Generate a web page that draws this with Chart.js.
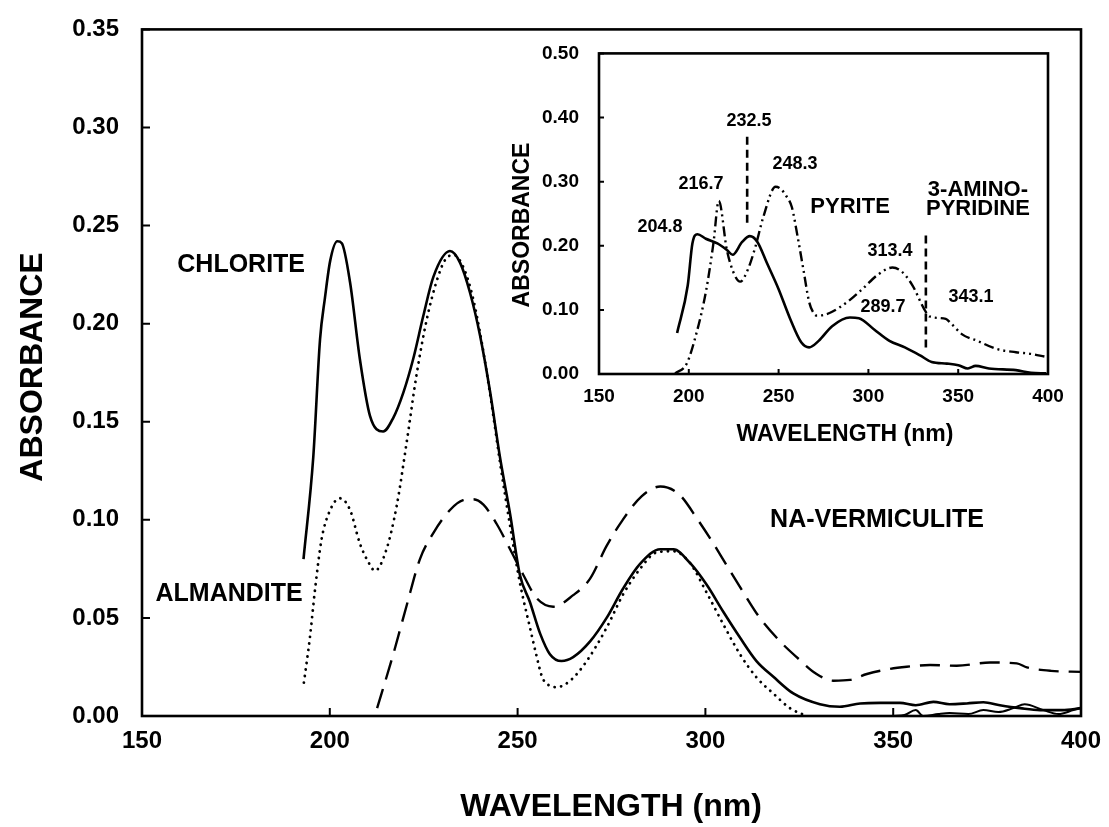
<!DOCTYPE html>
<html>
<head>
<meta charset="utf-8">
<script src="https://cdn.jsdelivr.net/npm/chart.js@4.4.1/dist/chart.umd.min.js"></script>
<style>
  html, body { margin: 0; padding: 0; background: #fff; }
  #wrap { position: relative; width: 1109px; height: 827px; }
  #main { position: absolute; left: 0; top: 0; }
  #inset { position: absolute; left: 500px; top: 30px; }
</style>
</head>
<body>
<div id="wrap">
  <canvas id="main" width="1109" height="827"></canvas>
  <canvas id="inset" width="575" height="425"></canvas>
</div>
<script>
// ---- main spectra ----
const chloriteNm = [193, 195.6, 197.4, 198.7, 200.1, 202, 203.2, 205.4, 208, 210.7, 214.2, 216.9, 219.6, 222.2, 224.9, 227.6, 232, 234.7, 237.3, 240, 242.7, 245.3, 248, 250.6, 253.3, 256, 258.6, 261.7, 264.8, 269.3, 273.7, 278.1, 282.6, 288, 291.5, 295.9, 300.3, 304.8, 309.2, 313.6, 318.1, 323.4, 330.5, 335.8, 341.2, 346.5, 351.8, 356, 360.7, 365, 369.6, 374, 378.4, 383.8, 389.1, 395, 400];
const chloriteAbs = [0.080, 0.132, 0.192, 0.213, 0.232, 0.242, 0.241, 0.221, 0.182, 0.153, 0.145, 0.152, 0.165, 0.182, 0.204, 0.224, 0.237, 0.231, 0.216, 0.194, 0.165, 0.132, 0.103, 0.072, 0.058, 0.042, 0.0315, 0.028, 0.030, 0.038, 0.050, 0.065, 0.0775, 0.085, 0.085, 0.078, 0.067, 0.053, 0.040, 0.028, 0.020, 0.0115, 0.006, 0.0047, 0.0064, 0.0067, 0.0067, 0.0055, 0.0072, 0.006, 0.0064, 0.007, 0.0055, 0.004, 0.003, 0.003, 0.004];

const almanditeNm = [193.1, 194.7, 196.1, 197.8, 200.1, 202.7, 205.4, 208, 210.7, 212, 215.1, 217.8, 220.5, 223.1, 225.8, 228.5, 230.7, 233, 235.5, 238, 240.5, 243, 245.5, 248, 250.6, 253.3, 255, 256.5, 257.8, 260.4, 264, 268.4, 273.7, 278.1, 282.6, 287, 291.5, 295.9, 300.3, 304.8, 309.2, 313.6, 318.1, 322.5, 327];
const almanditeAbs = [0.017, 0.040, 0.065, 0.090, 0.105, 0.111, 0.105, 0.088, 0.077, 0.074, 0.085, 0.107, 0.140, 0.174, 0.202, 0.222, 0.2325, 0.235, 0.229, 0.214, 0.190, 0.160, 0.127, 0.097, 0.068, 0.045, 0.031, 0.020, 0.0164, 0.0147, 0.018, 0.028, 0.045, 0.062, 0.075, 0.0834, 0.084, 0.078, 0.063, 0.0466, 0.0315, 0.0197, 0.0114, 0.004, 0.0];

// baseline trace near zero at the long-wavelength end
const baselineNm = [350, 353, 356, 358, 362, 365, 370, 374, 378, 382, 385, 390, 394, 398, 400];
const baselineAbs = [0.0, 0.0005, 0.003, 0.0, 0.001, 0.0015, 0.001, 0.003, 0.002, 0.004, 0.006, 0.003, 0.001, 0.003, 0.004];

const vermiculiteNm = [212.6, 216.9, 220.5, 224, 227.6, 232, 235.5, 238.2, 240.9, 244.4, 248, 251.5, 255.1, 259.5, 264.8, 269.3, 273.7, 278, 283, 288, 293, 298, 302.1, 305.7, 310.1, 314.5, 319.9, 324.3, 329.6, 334.1, 338.5, 343, 349.2, 353.6, 359.8, 366.9, 375.8, 382.9, 385.6, 392, 400];
const vermiculiteAbs = [0.004, 0.0315, 0.0566, 0.080, 0.0934, 0.105, 0.110, 0.1105, 0.1077, 0.098, 0.085, 0.072, 0.060, 0.0557, 0.0616, 0.070, 0.0867, 0.100, 0.112, 0.117, 0.113, 0.100, 0.088, 0.0767, 0.063, 0.050, 0.038, 0.030, 0.0214, 0.018, 0.0184, 0.0214, 0.024, 0.0251, 0.026, 0.0256, 0.0273, 0.0268, 0.0248, 0.023, 0.0225];

const mainAbsTicks = [0, 0.05, 0.10, 0.15, 0.20, 0.25, 0.30, 0.35];
const wavelengthTicks = [150, 200, 250, 300, 350, 400];

// ---- inset spectra ----
const insetChloriteNm = [193.5, 199.4, 202, 204.8, 209.5, 215.9, 221.2, 224.4, 229.7, 234, 238.2, 243.5, 249.9, 256.3, 262.7, 267, 272.3, 279.8, 289.7, 294.7, 303.2, 311.7, 320.3, 328.8, 335.2, 343.7, 350.1, 355.4, 359.7, 367.1, 382.1, 390.5, 399];
const insetChloriteAbs = [0.064, 0.138, 0.2036, 0.218, 0.211, 0.2036, 0.1935, 0.186, 0.206, 0.215, 0.206, 0.173, 0.133, 0.087, 0.049, 0.0415, 0.0517, 0.0745, 0.088, 0.087, 0.0694, 0.0517, 0.0415, 0.029, 0.0187, 0.0162, 0.0137, 0.0086, 0.0126, 0.0086, 0.006, 0.002, 0.001];

const pyriteNm = [192.4, 198.8, 204.1, 209.5, 213.7, 216.7, 221.2, 225.4, 228.6, 232.9, 237.1, 241.4, 248.3, 251, 254.2, 257.4, 260.6, 263.8, 267, 269.5, 271.3, 275, 279.8, 288.3, 296.8, 305.3, 313.4, 318.2, 324.6, 330.9, 334.1, 343.1, 345.8, 352.2, 360.7, 371.4, 382.1, 390.5, 398];
const pyriteAbs = [0.001, 0.016, 0.062, 0.128, 0.2036, 0.27, 0.1935, 0.155, 0.144, 0.163, 0.1986, 0.244, 0.292, 0.289, 0.278, 0.260, 0.214, 0.163, 0.1125, 0.095, 0.091, 0.092, 0.097, 0.1125, 0.133, 0.155, 0.166, 0.1606, 0.138, 0.102, 0.0897, 0.086, 0.0795, 0.0618, 0.0517, 0.039, 0.034, 0.0314, 0.0273];

const peakMarkerNm = [232.5, 232.5];
const peakMarkerAbs = [0.37, 0.23];
const aminoMarkerNm = [332, 332];
const aminoMarkerAbs = [0.216, 0.0415];

const insetAbsTicks = [0, 0.10, 0.20, 0.30, 0.40, 0.50];

const pts = (xs, ys) => xs.map((x, i) => ({ x: x, y: ys[i] }));

const FAMILY = '"Liberation Sans", Arial, Helvetica, sans-serif';

// frame, inward ticks, text labels and axis titles
function decor(cfg) {
  return {
    id: 'decor',
    afterDraw(chart) {
      const { ctx, chartArea: a, scales } = chart;
      ctx.save();
      ctx.strokeStyle = '#000';
      ctx.lineWidth = cfg.frameWidth;
      ctx.strokeRect(a.left, a.top, a.right - a.left, a.bottom - a.top);
      ctx.lineWidth = 2;
      ctx.beginPath();
      scales.y.ticks.forEach(t => {
        const py = scales.y.getPixelForValue(t.value);
        ctx.moveTo(a.left, py);
        ctx.lineTo(a.left + cfg.tickLen, py);
      });
      scales.x.ticks.forEach(t => {
        const px = scales.x.getPixelForValue(t.value);
        ctx.moveTo(px, a.bottom);
        ctx.lineTo(px, a.bottom - cfg.tickLen);
      });
      ctx.stroke();

      ctx.fillStyle = '#000';
      ctx.textAlign = 'center';
      ctx.textBaseline = 'middle';
      cfg.labels.forEach(l => {
        ctx.font = 'bold ' + l.size + 'px ' + FAMILY;
        ctx.fillText(l.text, scales.x.getPixelForValue(l.x), scales.y.getPixelForValue(l.y));
      });

      cfg.titles.forEach(t => {
        ctx.save();
        ctx.font = 'bold ' + t.size + 'px ' + FAMILY;
        ctx.translate(t.px, t.py);
        ctx.rotate(t.rot || 0);
        ctx.fillText(t.text, 0, 0);
        ctx.restore();
      });
      ctx.restore();
    }
  };
}

function axes(xTicks, yTicks, xFont, yFont, xHeight, yWidth, xPad, yPad, xMax, yMax) {
  return {
    x: {
      type: 'linear', min: 150, max: xMax,
      afterBuildTicks: s => { s.ticks = xTicks.map(v => ({ value: v })); },
      afterFit: s => { s.height = xHeight; },
      grid: { display: false }, border: { display: false },
      ticks: { color: '#000', font: { family: FAMILY, size: xFont, weight: 'bold' }, padding: xPad, maxRotation: 0, autoSkip: false }
    },
    y: {
      type: 'linear', min: 0, max: yMax,
      afterBuildTicks: s => { s.ticks = yTicks.map(v => ({ value: v })); },
      afterFit: s => { s.width = yWidth; },
      grid: { display: false }, border: { display: false },
      ticks: { color: '#000', font: { family: FAMILY, size: yFont, weight: 'bold' }, padding: yPad, callback: v => v.toFixed(2) }
    }
  };
}

const common = {
  responsive: false,
  animation: false,
  events: [],
  elements: { point: { radius: 0 }, line: { cubicInterpolationMode: 'monotone', fill: false } },
  plugins: { legend: { display: false }, tooltip: { enabled: false } }
};

new Chart(document.getElementById('main'), {
  type: 'line',
  data: {
    datasets: [
      { data: pts(chloriteNm, chloriteAbs), borderColor: '#000', borderWidth: 2.6 },
      { data: pts(almanditeNm, almanditeAbs), borderColor: '#000', borderWidth: 2.8, borderDash: [0.1, 6.5], borderCapStyle: 'round' },
      { data: pts(baselineNm, baselineAbs), borderColor: '#000', borderWidth: 2 },
      { data: pts(vermiculiteNm, vermiculiteAbs), borderColor: '#000', borderWidth: 2.4, borderDash: [20, 10] }
    ]
  },
  options: Object.assign({}, common, {
    layout: { padding: { top: 19, right: 28, left: 0, bottom: 0 } },
    scales: axes(wavelengthTicks, mainAbsTicks, 24, 24, 111, 142, 3, 15, 400, 0.35)
  }),
  plugins: [decor({
    frameWidth: 2.6, tickLen: 8,
    labels: [
      { text: 'CHLORITE', x: 176.4, y: 0.230, size: 25 },
      { text: 'ALMANDITE', x: 173.2, y: 0.0623, size: 25 },
      { text: 'NA-VERMICULITE', x: 345.7, y: 0.100, size: 25 }
    ],
    titles: [
      { text: 'ABSORBANCE', px: 33, py: 367, rot: -Math.PI / 2, size: 32 },
      { text: 'WAVELENGTH (nm)', px: 611, py: 807, size: 32 }
    ]
  })]
});

new Chart(document.getElementById('inset'), {
  type: 'line',
  data: {
    datasets: [
      { data: pts(insetChloriteNm, insetChloriteAbs), borderColor: '#000', borderWidth: 2.6 },
      { data: pts(pyriteNm, pyriteAbs), borderColor: '#000', borderWidth: 2.4, borderDash: [10, 4, 2, 4, 2, 4] },
      { data: pts(peakMarkerNm, peakMarkerAbs), borderColor: '#000', borderWidth: 2.6, borderDash: [8, 5], cubicInterpolationMode: 'default', tension: 0 },
      { data: pts(aminoMarkerNm, aminoMarkerAbs), borderColor: '#000', borderWidth: 2.6, borderDash: [8, 5], cubicInterpolationMode: 'default', tension: 0 }
    ]
  },
  options: Object.assign({}, common, {
    layout: { padding: { top: 15, right: 27, left: 0, bottom: 0 } },
    scales: axes(wavelengthTicks, insetAbsTicks, 19, 19, 81, 99, 3, 12, 400, 0.5)
  }),
  plugins: [decor({
    frameWidth: 2.6, tickLen: 5,
    labels: [
      { text: '232.5', x: 233.5, y: 0.395, size: 18 },
      { text: '216.7', x: 206.8, y: 0.296, size: 18 },
      { text: '248.3', x: 259.1, y: 0.327, size: 18 },
      { text: '204.8', x: 184.0, y: 0.229, size: 18 },
      { text: '313.4', x: 312.0, y: 0.192, size: 18 },
      { text: '289.7', x: 308.1, y: 0.105, size: 18 },
      { text: '343.1', x: 357.1, y: 0.120, size: 18 },
      { text: 'PYRITE', x: 289.8, y: 0.260, size: 22 },
      { text: '3-AMINO-', x: 361.0, y: 0.287, size: 22 },
      { text: 'PYRIDINE', x: 361.0, y: 0.257, size: 22 }
    ],
    titles: [
      { text: 'ABSORBANCE', px: 23, py: 195, rot: -Math.PI / 2, size: 23 },
      { text: 'WAVELENGTH (nm)', px: 345, py: 405, size: 23 }
    ]
  })]
});
</script>
</body>
</html>
